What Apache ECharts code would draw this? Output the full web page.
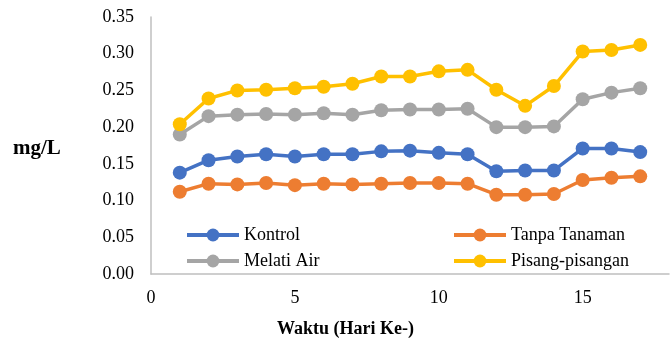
<!DOCTYPE html>
<html>
<head>
<meta charset="utf-8">
<script src="https://cdn.jsdelivr.net/npm/echarts@6/dist/echarts.min.js"></script>
<style>
  html, body { margin: 0; padding: 0; background: #fff; }
  #chart { width: 672px; height: 342px; }
</style>
</head>
<body>
<div id="chart"></div>
<script>
// Days of observation (Hari Ke-)
const days = [1, 2, 3, 4, 5, 6, 7, 8, 9, 10, 11, 12, 13, 14, 15, 16, 17];

// Concentration per treatment, mg/L
const kontrol = [0.138, 0.155, 0.160, 0.163, 0.160, 0.163, 0.163, 0.167, 0.168, 0.165, 0.163, 0.140, 0.141, 0.141, 0.171, 0.171, 0.166];
const tanpaTanaman = [0.112, 0.123, 0.122, 0.124, 0.121, 0.123, 0.122, 0.123, 0.124, 0.124, 0.123, 0.108, 0.108, 0.109, 0.128, 0.131, 0.133];
const melatiAir = [0.190, 0.215, 0.217, 0.218, 0.217, 0.219, 0.217, 0.223, 0.224, 0.224, 0.225, 0.200, 0.200, 0.201, 0.238, 0.247, 0.253];
const pisangPisangan = [0.204, 0.239, 0.250, 0.251, 0.253, 0.255, 0.259, 0.269, 0.269, 0.276, 0.278, 0.251, 0.229, 0.256, 0.303, 0.305, 0.312];

const seriesNames = ['Kontrol', 'Tanpa Tanaman', 'Melati Air', 'Pisang-pisangan'];
const seriesData = [kontrol, tanpaTanaman, melatiAir, pisangPisangan];
const colors = ['#4472C4', '#ED7D31', '#A5A5A5', '#FFC000'];

const FONT = '"Liberation Serif", "Times New Roman", serif';

const chart = echarts.init(document.getElementById('chart'), null, { renderer: 'canvas' });

function legendAt(name, left, top) {
  return {
    data: [name],
    left: left,
    top: top,
    itemWidth: 52,
    itemHeight: 16,
    itemGap: 5,
    padding: 0,
    lineStyle: { width: 4 },
    textStyle: { fontFamily: FONT, fontSize: 18, color: '#000' },
    selectedMode: false
  };
}

chart.setOption({
  animation: false,
  color: colors,
  grid: { left: 151, right: -10, top: 17, bottom: 68 },
  xAxis: {
    type: 'value',
    min: 0,
    max: 18,
    interval: 5,
    splitLine: { show: false },
    axisTick: { show: false },
    axisLine: { lineStyle: { color: '#BFBFBF', width: 1.5 } },
    axisLabel: {
      margin: 15,
      fontFamily: FONT, fontSize: 18, color: '#000',
      formatter: v => (v % 5 === 0 && v <= 15 ? String(v) : '')
    }
  },
  yAxis: {
    type: 'value',
    min: 0,
    max: 0.35,
    interval: 0.05,
    splitLine: { show: false },
    axisTick: { show: false },
    axisLine: { show: true, lineStyle: { color: '#BFBFBF', width: 1.5 } },
    axisLabel: {
      margin: 17,
      fontFamily: FONT, fontSize: 18, color: '#000',
      formatter: v => v.toFixed(2)
    }
  },
  legend: [
    legendAt('Kontrol', 185, 226),
    legendAt('Tanpa Tanaman', 452, 226),
    legendAt('Melati Air', 185, 252),
    legendAt('Pisang-pisangan', 452, 252)
  ],
  graphic: [
    {
      type: 'text',
      left: 13, top: 138,
      style: { text: 'mg/L', fontFamily: FONT, fontSize: 21, fontWeight: 'bold', fill: '#000' }
    },
    {
      type: 'text',
      left: 277, top: 320,
      style: { text: 'Waktu (Hari Ke-)', fontFamily: FONT, fontSize: 18, fontWeight: 'bold', fill: '#000' }
    }
  ],
  series: seriesNames.map((name, i) => ({
    name: name,
    type: 'line',
    data: days.map((d, j) => [d, seriesData[i][j]]),
    symbol: 'circle',
    symbolSize: 14,
    lineStyle: { width: 3.5, color: colors[i] },
    itemStyle: { color: colors[i] },
    z: 2 + i
  }))
});
</script>
</body>
</html>
